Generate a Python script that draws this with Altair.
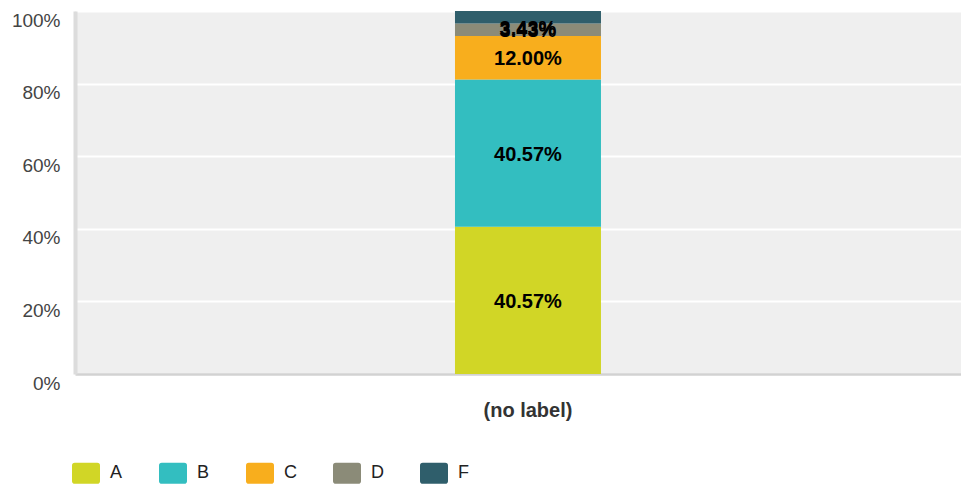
import altair as alt
import pandas as pd

# ---- data ----
question = "(no label)"
categories = ["A", "B", "C", "D", "F"]
percents = [40.57, 40.57, 12.00, 3.43, 3.43]
colors = ["#d1d626", "#33bec0", "#f8ae1d", "#8b8b78", "#2f5e6b"]
y_ticks = [0, 0.1, 0.2, 0.3, 0.4, 0.5, 0.6, 0.7, 0.8, 0.9, 1.0]

df = pd.DataFrame({
    "q": [question] * len(categories),
    "answer": categories,
    "pct": percents,
    "idx": list(range(len(categories))),
})

FONT = "Liberation Sans"
rounded_rect = ("M-0.8,-0.75 L0.8,-0.75 Q1,-0.75 1,-0.55 L1,0.55 Q1,0.75 0.8,0.75 "
                "L-0.8,0.75 Q-1,0.75 -1,0.55 L-1,-0.55 Q-1,-0.75 -0.8,-0.75 Z")

base = alt.Chart(df).transform_calculate(frac="datum.pct / 100")

x_scale = alt.Scale(paddingInner=0, paddingOuter=1, align=0.5169)

x_enc = alt.X(
    "q:N",
    scale=x_scale,
    axis=alt.Axis(
        title=None, labelAngle=0, ticks=False, labelPadding=26,
        labelFontSize=20, labelFontWeight="bold", labelColor="#333333",
        labelFont=FONT, domainColor="#d2d2d2", domainWidth=2.5,
    ),
)

y_scale = alt.Scale(domain=[0, 1], nice=False)

bars = base.mark_bar(size=146).encode(
    x=x_enc,
    y=alt.Y(
        "frac:Q", stack="zero", scale=y_scale,
        axis=alt.Axis(
            title=None, values=y_ticks, ticks=False,
            labelExpr="round(datum.value * 100) % 20 == 0 ? format(datum.value, '.0%') : ''",
            labelFontSize=19, labelColor="#444444", labelFont=FONT,
            labelPadding=15, labelOffset=9, labelBaseline="middle",
            gridColor="#ffffff", gridWidth=2,
            domainColor="#dcdcdc", domainWidth=4,
        ),
    ),
    color=alt.Color(
        "answer:N",
        scale=alt.Scale(domain=categories, range=colors),
        legend=alt.Legend(
            title=None, orient="none", legendX=-3, legendY=448,
            direction="horizontal", columns=5, gridAlign="all",
            symbolType=rounded_rect, symbolSize=784, symbolStrokeWidth=0,
            symbolOpacity=1, labelFontSize=18, labelFont=FONT,
            labelColor="#222222", labelOffset=10, columnPadding=36,
        ),
    ),
    order=alt.Order("idx:Q"),
)

labels = base.transform_window(
    cum="sum(frac)", sort=[alt.SortField("idx")], frame=[None, 0]
).transform_calculate(
    mid="min(datum.cum - datum.frac / 2, 0.955)",
    txt="format(datum.pct, '.2f') + '%'",
).mark_text(
    fontSize=20, fontWeight="bold", color="#000000", font=FONT,
    baseline="middle", dy=1.5,
).encode(
    x=alt.X("q:N", scale=x_scale),
    y=alt.Y("mid:Q", scale=y_scale),
    text="txt:N",
)

chart = alt.layer(bars, labels).properties(
    width=886,
    height=363,
    autosize=alt.AutoSizeParams(type="none"),
    padding={"left": 67, "top": 3, "right": 0, "bottom": 110},
).configure_view(fill="#efefef", stroke=None)

chart.save("out.html", embed_options={"renderer": "svg", "actions": False})
